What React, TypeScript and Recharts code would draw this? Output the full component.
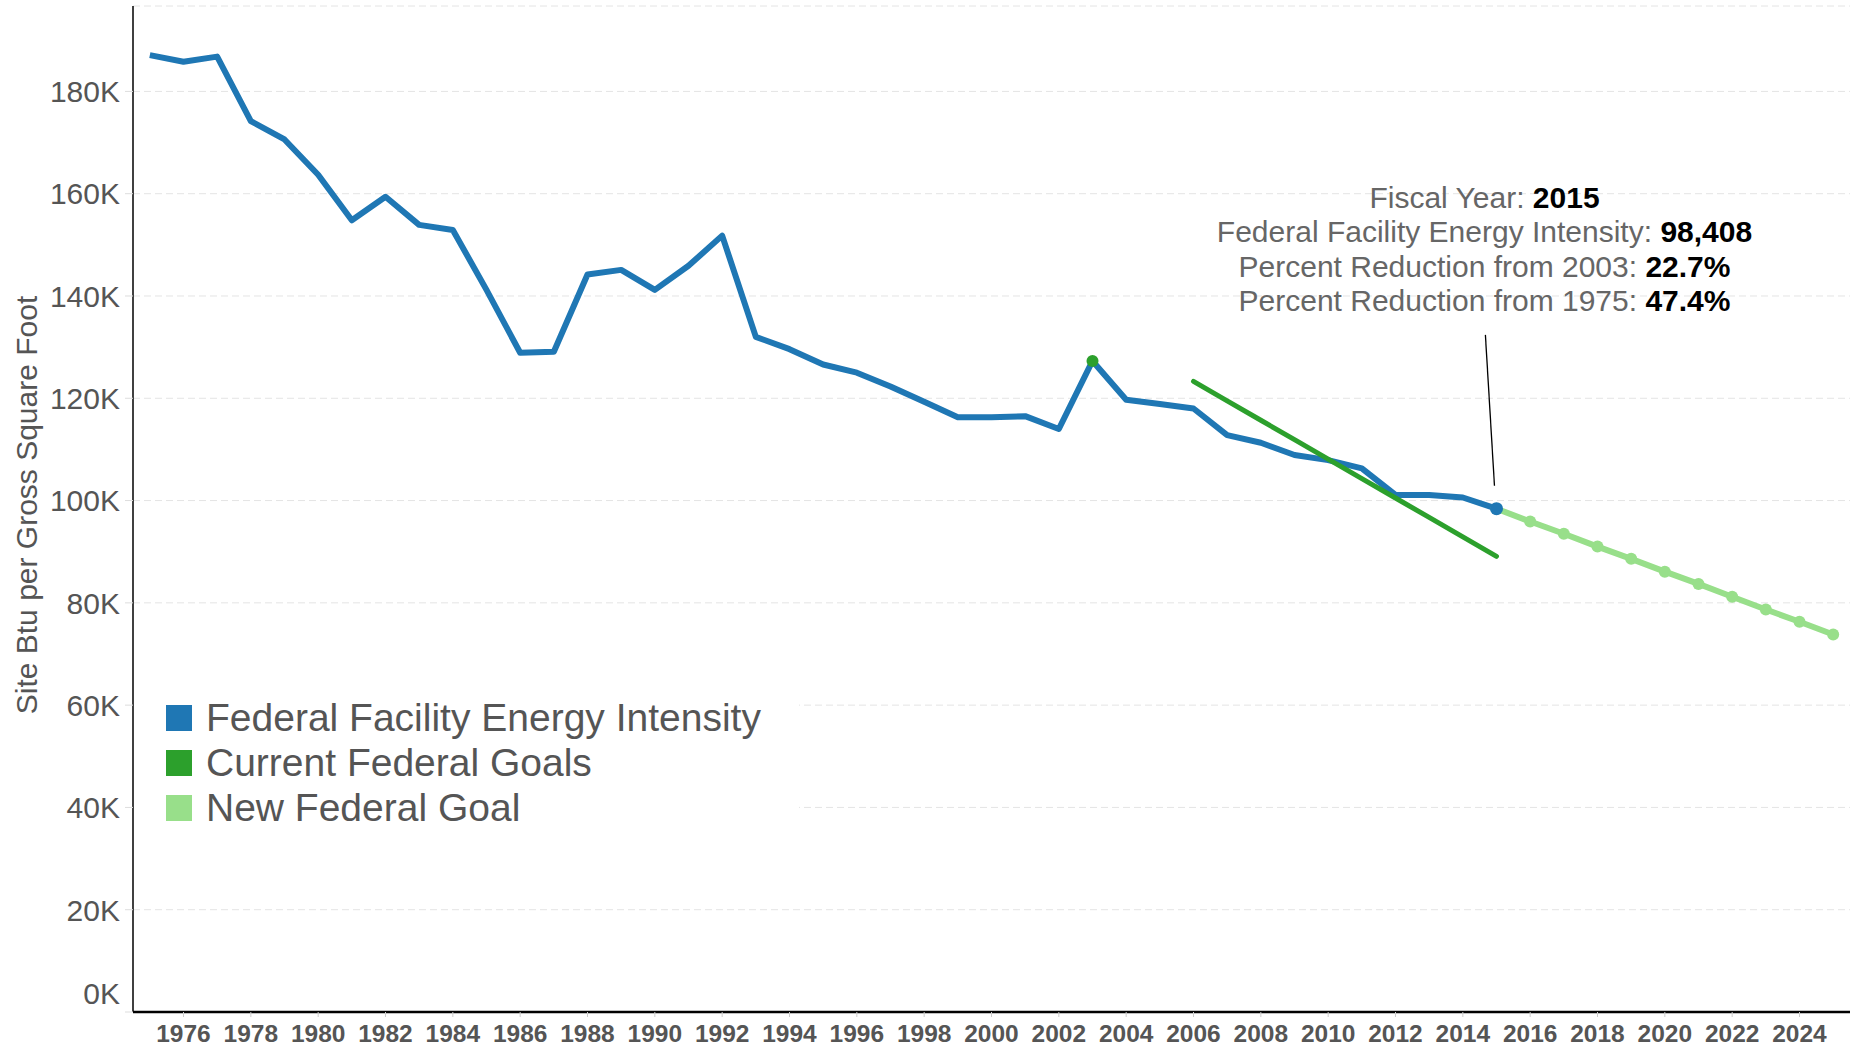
import { LineChart, Line, XAxis, YAxis, CartesianGrid, Legend, ReferenceLine, Label } from 'recharts';

const FONT = 'Arial, "Liberation Sans", Helvetica, sans-serif';

const BLUE = '#1f77b4';
const GREEN = '#2ca02c';
const LIGHT_GREEN = '#98df8a';

const years = [
  1975, 1976, 1977, 1978, 1979, 1980, 1981, 1982, 1983, 1984,
  1985, 1986, 1987, 1988, 1989, 1990, 1991, 1992, 1993, 1994,
  1995, 1996, 1997, 1998, 1999, 2000, 2001, 2002, 2003, 2004,
  2005, 2006, 2007, 2008, 2009, 2010, 2011, 2012, 2013, 2014,
  2015, 2016, 2017, 2018, 2019, 2020, 2021, 2022, 2023, 2024, 2025,
];

// Federal Facility Energy Intensity, 1975..2015 (site Btu / gross sq ft)
const intensity = [
  187100, 185800, 186800, 174200, 170600, 163700, 154800, 159400, 153900, 152900,
  141200, 128900, 129100, 144200, 145100, 141200, 145900, 151800, 132000, 129600,
  126600, 125000, 122300, 119300, 116300, 116300, 116500, 114000, 127300, 119700,
  118900, 118000, 112800, 111300, 108900, 107900, 106300, 101100, 101100, 100600,
  98408,
];

const currentGoalYears = [2003, 2006, 2007, 2008, 2009, 2010, 2011, 2012, 2013, 2014, 2015];
const currentGoalValues = [127300, 123300, 119500, 115700, 111900, 108100, 104300, 100500, 96700, 92900, 89100];

const newGoalYears = [2015, 2016, 2017, 2018, 2019, 2020, 2021, 2022, 2023, 2024, 2025];
const newGoalValues = [98408, 95900, 93500, 91000, 88600, 86100, 83700, 81200, 78700, 76300, 73800];

const xTicks = [
  1976, 1978, 1980, 1982, 1984, 1986, 1988, 1990, 1992, 1994, 1996, 1998, 2000,
  2002, 2004, 2006, 2008, 2010, 2012, 2014, 2016, 2018, 2020, 2022, 2024,
];
const yTicks = [0, 20000, 40000, 60000, 80000, 100000, 120000, 140000, 160000, 180000];

const legendItems = [
  { name: 'Federal Facility Energy Intensity', color: BLUE },
  { name: 'Current Federal Goals', color: GREEN },
  { name: 'New Federal Goal', color: LIGHT_GREEN },
];

const annotation = [
  { label: 'Fiscal Year: ', value: '2015' },
  { label: 'Federal Facility Energy Intensity: ', value: '98,408' },
  { label: 'Percent Reduction from 2003: ', value: '22.7%' },
  { label: 'Percent Reduction from 1975: ', value: '47.4%' },
];

const chartData = years.map((year, i) => {
  const c = currentGoalYears.indexOf(year);
  const n = newGoalYears.indexOf(year);
  return {
    year,
    intensity: i < intensity.length ? intensity[i] : null,
    current: c >= 0 ? currentGoalValues[c] : null,
    newGoal: n >= 0 ? newGoalValues[n] : null,
  };
});

const lastYear = years[intensity.length - 1];

function YTick(props: any) {
  const { x, y, payload } = props;
  const shift = payload.value === 0 ? -19 : 0;
  return (
    <text x={x} y={y + shift} dy="0.36em" textAnchor="end" fontSize={30} fill="#555" fontFamily={FONT}>
      {`${payload.value / 1000}K`}
    </text>
  );
}

function LegendBox() {
  return (
    <div style={{ background: '#fff', width: 665, height: 140, paddingTop: 3, boxSizing: 'border-box' }}>
      {legendItems.map(item => (
        <div key={item.name} style={{ display: 'flex', alignItems: 'center', height: 45 }}>
          <span style={{ display: 'inline-block', width: 26, height: 26, marginLeft: 32, background: item.color }} />
          <span style={{ marginLeft: 14, fontSize: 39, color: '#555', fontFamily: FONT, lineHeight: '45px' }}>{item.name}</span>
        </div>
      ))}
    </div>
  );
}

export default function App() {
  return (
    <div style={{ position: 'relative', width: 1864, height: 1049, background: '#fff' }}>
      <style>{'body{margin:0;}'}</style>
      <LineChart width={1864} height={1049} data={chartData} margin={{ top: 6, right: 14, left: 13, bottom: 0 }}>
        <CartesianGrid vertical={false} stroke="#e4e4e4" strokeDasharray="7 4" />
        <XAxis
          dataKey="year"
          type="number"
          domain={[1974.5, 2025.5]}
          ticks={xTicks}
          interval={0}
          height={37}
          tickSize={5}
          tickMargin={8}
          axisLine={{ stroke: '#000', strokeWidth: 2.5 }}
          tickLine={{ stroke: '#ccc' }}
          tick={{ fontSize: 24.5, fontWeight: 'bold', fill: '#555', fontFamily: FONT }}
        />
        <YAxis
          width={120}
          domain={[0, 196700]}
          ticks={yTicks}
          interval={0}
          allowDataOverflow
          tickSize={8}
          tickMargin={5}
          axisLine={{ stroke: '#000', strokeWidth: 1.5 }}
          tickLine={{ stroke: '#ddd' }}
          tick={<YTick />}
        >
          <Label
            content={(p: any) => {
              const vb = p.viewBox || { x: 13, y: 6, width: 120, height: 1006 };
              const cx = vb.x + 13;
              const cy = vb.y + vb.height / 2 - 4;
              return (
                <text
                  x={cx}
                  y={cy}
                  transform={`rotate(-90 ${cx} ${cy})`}
                  textAnchor="middle"
                  dominantBaseline="central"
                  fontSize={30}
                  fill="#555"
                  fontFamily={FONT}
                >
                  Site Btu per Gross Square Foot
                </text>
              );
            }}
          />
        </YAxis>
        <Legend
          layout="vertical"
          align="center"
          verticalAlign="middle"
          content={<LegendBox />}
          wrapperStyle={{ position: 'absolute', left: 134, top: 692, width: 665, height: 140 }}
        />
        <ReferenceLine
          segment={[{ x: 2014.67, y: 132400 }, { x: 2014.94, y: 102900 }]}
          stroke="#000"
          strokeWidth={1.3}
          ifOverflow="visible"
        />
        <Line
          dataKey="newGoal"
          stroke={LIGHT_GREEN}
          strokeWidth={6}
          dot={{ r: 6, fill: LIGHT_GREEN, stroke: LIGHT_GREEN, strokeWidth: 0 }}
          isAnimationActive={false}
          connectNulls={false}
        />
        <Line
          dataKey="intensity"
          stroke={BLUE}
          strokeWidth={6}
          strokeLinejoin="round"
          dot={(p: any) =>
            p.payload.year === lastYear ? (
              <circle key={`b${p.index}`} cx={p.cx} cy={p.cy} r={6.5} fill={BLUE} />
            ) : (
              <g key={`b${p.index}`} />
            )
          }
          isAnimationActive={false}
          connectNulls={false}
        />
        <Line
          dataKey="current"
          stroke={GREEN}
          strokeWidth={5}
          strokeLinecap="round"
          dot={(p: any) =>
            p.payload.year === currentGoalYears[0] ? (
              <circle key={`g${p.index}`} cx={p.cx} cy={p.cy} r={6} fill={GREEN} />
            ) : (
              <g key={`g${p.index}`} />
            )
          }
          isAnimationActive={false}
          connectNulls={false}
        />
      </LineChart>
      <div
        style={{
          position: 'absolute',
          left: 1484.5 - 400,
          top: 181,
          width: 800,
          textAlign: 'center',
          fontFamily: FONT,
          fontSize: 30,
          lineHeight: '34.3px',
          color: '#666',
          whiteSpace: 'nowrap',
        }}
      >
        {annotation.map(a => (
          <div key={a.label}>
            {a.label}
            <b style={{ color: '#000' }}>{a.value}</b>
          </div>
        ))}
      </div>
    </div>
  );
}
